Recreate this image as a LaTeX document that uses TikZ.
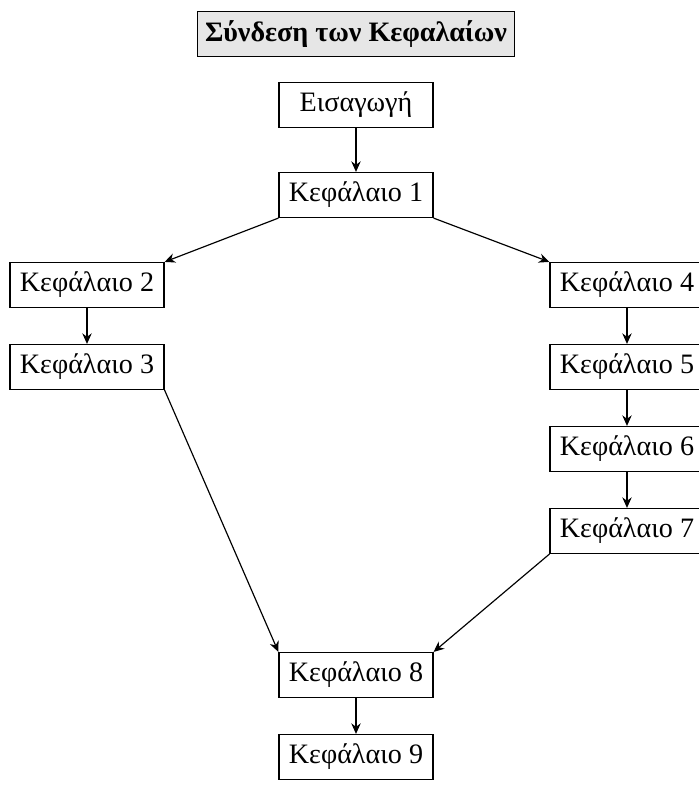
\documentclass[tikz,border=0pt,12pt]{standalone}
\usepackage{fontspec}
\setmainfont{Liberation Serif}
\usepackage{xcolor}
\usepackage{tikz}
\usetikzlibrary{arrows.meta}
\definecolor{titlegray}{HTML}{E6E6E6}

\begin{document}
\begin{tikzpicture}[
    chapbox/.style={rectangle, draw=black, line width=0.5pt, minimum width=2.31cm, minimum height=0.675cm, inner sep=2pt, fill=white},
    titlebox/.style={chapbox, minimum width=4.755cm, fill=titlegray, font=\bfseries},
    link/.style={-{Stealth[length=4.5pt, width=4pt]}, line width=0.5pt}
]
\useasboundingbox (0,0) rectangle (10.485,-11.88);
\node[titlebox] (title) at (5.34, -0.51) {Σύνδεση των Κεφαλαίων};
\node[chapbox] (intro) at (5.34, -1.575) {Εισαγωγή};
\node[chapbox] (ch1) at (5.34, -2.925) {Κεφάλαιο 1};
\node[chapbox] (ch2) at (1.305, -4.275) {Κεφάλαιο 2};
\node[chapbox] (ch3) at (1.305, -5.505) {Κεφάλαιο 3};
\node[chapbox] (ch4) at (9.405, -4.275) {Κεφάλαιο 4};
\node[chapbox] (ch5) at (9.405, -5.505) {Κεφάλαιο 5};
\node[chapbox] (ch6) at (9.405, -6.735) {Κεφάλαιο 6};
\node[chapbox] (ch7) at (9.405, -7.965) {Κεφάλαιο 7};
\node[chapbox] (ch8) at (5.34, -10.125) {Κεφάλαιο 8};
\node[chapbox] (ch9) at (5.34, -11.355) {Κεφάλαιο 9};

\draw[link] (intro) -- (ch1);
\draw[link] (ch1.south west) -- (ch2.north east);
\draw[link] (ch1.south east) -- (ch4.north west);
\draw[link] (ch2) -- (ch3);
\draw[link] (ch4) -- (ch5);
\draw[link] (ch5) -- (ch6);
\draw[link] (ch6) -- (ch7);
\draw[link] (ch3.south east) -- (ch8.north west);
\draw[link] (ch7.south west) -- (ch8.north east);
\draw[link] (ch8) -- (ch9);
\end{tikzpicture}
\end{document}
